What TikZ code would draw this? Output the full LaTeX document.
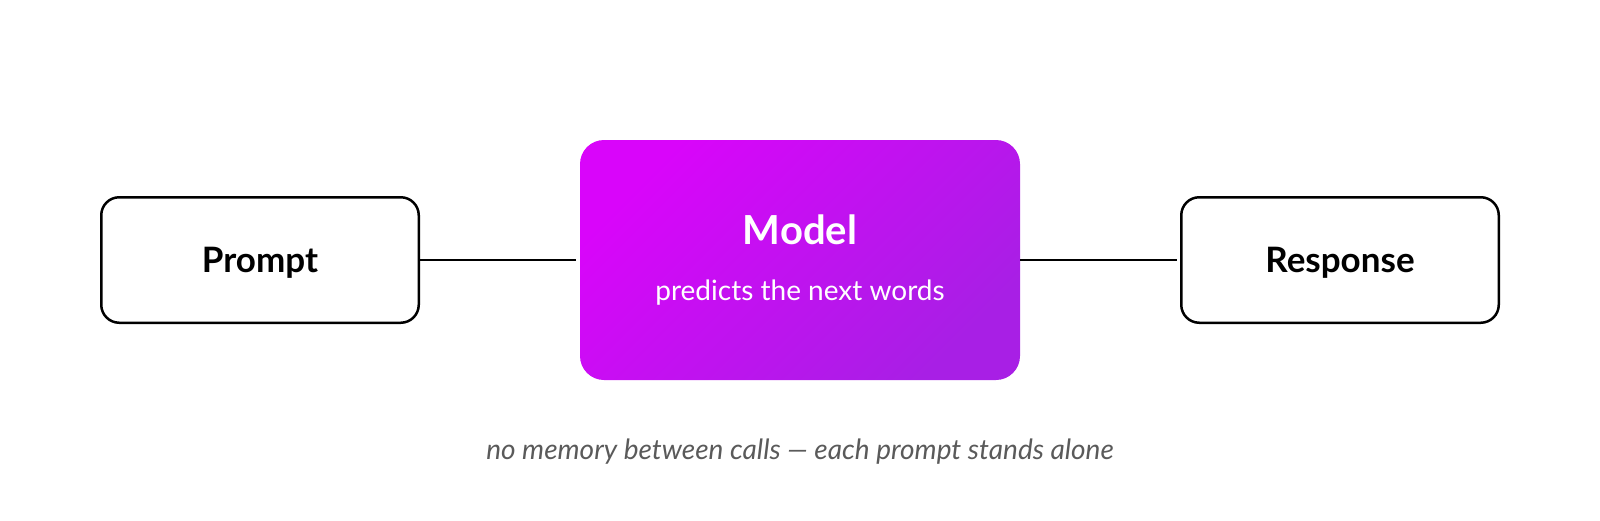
\documentclass[tikz,border=0pt]{standalone}
\usepackage{fontspec}
\setmainfont{Lato}
\usepackage{tikz}

\definecolor{modeltop}{HTML}{D905FA}
\definecolor{modelbottom}{HTML}{A81FE5}
\definecolor{notegray}{HTML}{5A5A5A}

\begin{document}
\begin{tikzpicture}[x=1pt, y=-1pt,
    every node/.style = {inner sep=0pt, outer sep=0pt},
    endbox/.style = {shape=rectangle, rounded corners=18pt, draw, line width=2.5pt,
          minimum width=317.5pt, minimum height=125.5pt, text height=25pt, text depth=0pt,
          font=\fontsize{35}{42}\selectfont\bfseries},
    modelbox/.style = {shape=rectangle, rounded corners=24pt,
          minimum width=440pt, minimum height=240pt,
          top color=modeltop, bottom color=modelbottom, shading angle=45},
    link/.style = {line width=2.5pt, shorten >=4pt}]
  \useasboundingbox (0,0) rectangle (1600,520);
  % the three boxes
  \node[endbox] (prompt) at (260,260) {Prompt};
  \node[modelbox] (model) at (800,260) {};
  \node[endbox] (response) at (1340,260) {Response};
  % text inside the model
  \node[anchor=base, text=white, font=\fontsize{40}{48}\selectfont\bfseries]
        (modelname) at (800,244) {Model};
  \node[anchor=base, text=white, font=\fontsize{28}{34}\selectfont]
        (modeldesc) at (800,300) {predicts the next words};
  % connectors
  \draw[link] (prompt) -- (model);
  \draw[link] (model) -- (response);
  % note below
  \node[anchor=base, text=notegray, font=\fontsize{28}{34}\selectfont\itshape]
        (note) at (800,459) {no memory between calls — each prompt stands alone};
\end{tikzpicture}
\end{document}
